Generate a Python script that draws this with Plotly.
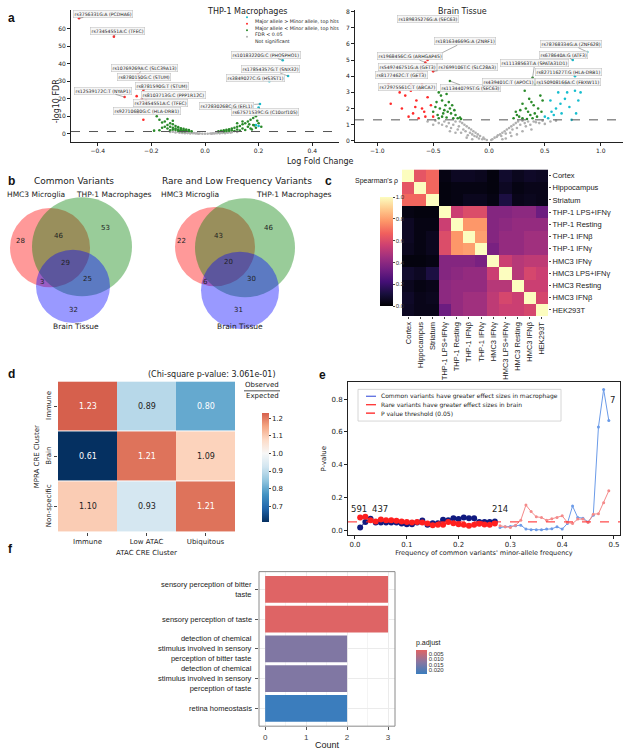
import plotly.graph_objects as go

W, H = 625, 750


def fx(px):
    return px / W


def fy(py):
    return 1 - py / H


FONT = "DejaVu Sans"
ARIAL = "Liberation Sans"

# ---------------- panel a: volcano data ----------------
fdr_line = 1.3  # -log10(0.05)

thp_cyan_x = [0.29, 0.31, 0.24, 0.205, 0.20, 0.20, 0.19]
thp_cyan_y = [42, 33, 30, 17, 15, 4.5, 5]
thp_red_x = [-0.47, -0.34, -0.25, -0.245, -0.23, -0.30, -0.255, -0.235, -0.24, -0.25, -0.23, -0.22]
thp_red_y = [66, 55.5, 34, 31, 25, 21, 21.5, 20, 18, 12, 8, 19]
thp_green_x = [-0.18, -0.17, -0.16, -0.15, -0.14, -0.13, -0.13, -0.12, -0.12, -0.11, -0.11, -0.10,
               -0.10, -0.09, -0.09, -0.08, -0.08, -0.07, -0.07, -0.06, -0.06, -0.05, -0.14, -0.15,
               -0.16, -0.12, -0.10, -0.13, -0.11, -0.095, -0.085, -0.075, -0.12, -0.14, -0.17, -0.19,
               0.05, 0.06, 0.07, 0.08, 0.09, 0.10, 0.11, 0.12, 0.13, 0.14, 0.15, 0.16, 0.17, 0.18,
               0.19, 0.10, 0.12, 0.14, 0.16, 0.18, 0.11, 0.13, 0.15, 0.17, 0.19, 0.08, 0.09, 0.07,
               0.12, 0.14, 0.20, 0.185, 0.165, 0.21, 0.175, 0.195]
thp_green_y = [10, 8, 6.5, 7, 5, 6, 4, 3.5, 5.5, 3, 4.5, 2.5,
               3.8, 2.2, 3.2, 2, 2.8, 1.8, 2.4, 1.6, 2.1, 1.5, 3, 4,
               3.5, 2.4, 1.8, 2, 2.2, 1.6, 1.5, 1.5, 7.5, 8.5, 2, 1.8,
               1.5, 1.7, 2, 2.3, 2.6, 3, 3.5, 4, 4.5, 5.5, 6, 7, 8, 9,
               10, 2, 2.5, 3, 4, 5, 1.6, 1.8, 2.2, 3, 3.5, 1.6, 1.8, 1.5,
               6, 7, 6, 4.8, 5.4, 4, 2.5, 7.5]
thp_grey_x = [-0.12, -0.1, -0.09, -0.08, -0.07, -0.06, -0.05, -0.04, -0.03, -0.02, -0.01, 0.0, 0.01,
              0.02, 0.03, 0.04, 0.05, 0.06, 0.07, 0.08, 0.09, -0.045, -0.035, 0.035, 0.045, -0.065,
              0.065, -0.085, 0.085, -0.11, 0.1, -0.13, 0.12, -0.025, 0.025, -0.055, 0.055, -0.075,
              0.075, -0.095, 0.095]
thp_grey_y = [1.2, 1.1, 1.0, 0.9, 0.8, 0.7, 0.6, 0.45, 0.3, 0.15, 0.05, 0.0, 0.05,
              0.15, 0.3, 0.45, 0.6, 0.75, 0.9, 1.05, 1.2, 0.3, 0.2, 0.2, 0.35, 0.4,
              0.45, 0.5, 0.6, 0.8, 0.9, 1.0, 1.1, 0.05, 0.08, 0.2, 0.25, 0.3,
              0.35, 0.6, 0.7]

thp_labels = ["rs3756331G:A (PCDHA6)", "rs73454551A:C (TFEC)", "rs10769269A:C (SLC39A13)",
              "rs8780150G:C (STUM)", "rs8781590G:T (STUM)", "rs12539172C:T (NYAP1)",
              "rs8103713G:C (PPP1R12C)", "rs73454551A:C (TFEC)", "rs92710680G:C (HLA-DRB1)",
              "rs10183220G:C (PHOSPHO1)", "rs17854357G:T (SNX32)", "rs3849027C:G (HS3ST1)",
              "rs72830268C:G (EFL1)", "rs67571539C:G (C10orf105)"]
thp_lab_x = [-0.47, -0.34, -0.25, -0.245, -0.23, -0.30, -0.235, -0.24, -0.25, 0.29, 0.31, 0.24, 0.205, 0.20]
thp_lab_y = [66, 55.5, 34, 31, 25, 21, 20, 18, 12, 42, 33, 30, 17, 15]
thp_text_x = [-0.38, -0.325, -0.224, -0.228, -0.161, -0.381, -0.116, -0.165, -0.217, 0.228, 0.243, 0.19, 0.082, 0.224]
thp_text_y = [68.6, 58.9, 37.7, 32.6, 27.3, 24.7, 22.2, 17.4, 13, 45, 36.8, 31.7, 15.8, 12.3]

brain_cyan_x = [0.88, 0.75, 0.77, 0.68, 0.82, 0.77, 0.70, 0.62, 0.55, 0.60, 0.65, 0.72, 0.78, 0.68,
                0.58, 0.53, 0.74, 0.56, 0.64, 0.80, 0.50]
brain_cyan_y = [5.5, 5.0, 4.0, 3.5, 3.0, 3.1, 3.0, 3.0, 2.5, 2.0, 1.7, 2.1, 1.7, 2.6,
                1.6, 1.4, 1.3, 1.8, 2.3, 2.5, 1.5]
brain_red_x = [-0.6, -0.55, -0.57, -0.6, -0.5, -0.65, -0.7, -0.9, -0.88, -0.8, -0.75, -0.7, -0.65,
               -0.62, -0.6, -0.58, -0.55, -0.52, -0.5, -0.68, -0.72, -0.78, -0.63, -0.57, -0.66, -0.6]
brain_red_y = [7.5, 5.0, 4.85, 4.2, 4.3, 4.0, 3.5, 3.5, 2.3, 3.0, 2.8, 3.1, 2.5,
               3.2, 2.0, 1.8, 2.7, 2.2, 1.5, 1.7, 1.5, 2.0, 1.4, 1.5, 2.1, 3.5]
brain_green_x = [-0.35, -0.4, -0.45, -0.38, -0.42, -0.36, -0.33, -0.48, -0.44, -0.4, -0.37, -0.34,
                 -0.3, -0.46, -0.42, -0.38, -0.28, -0.32, -0.5, -0.47, -0.43, -0.39, -0.35, -0.31,
                 -0.26, -0.25, -0.41, -0.45,
                 0.39, 0.41, 0.45, 0.32, 0.36, 0.38, 0.4, 0.44, 0.3, 0.33, 0.35, 0.28, 0.25, 0.27,
                 0.3, 0.37, 0.41, 0.47, 0.43, 0.39, 0.46, 0.48, 0.34, 0.22, 0.24]
brain_green_y = [3.7, 3.2, 3.0, 2.9, 2.5, 2.4, 2.2, 2.1, 2.0, 1.9, 1.8, 1.7,
                 1.6, 1.6, 1.5, 1.45, 1.4, 1.4, 1.8, 2.4, 2.8, 2.2, 2.0, 1.9,
                 1.45, 1.35, 1.7, 1.4,
                 3.9, 3.5, 3.5, 3.1, 2.6, 2.4, 2.2, 2.0, 2.3, 2.0, 1.8, 1.9, 1.6, 1.5,
                 1.4, 1.6, 1.7, 1.8, 1.5, 1.4, 2.8, 2.5, 1.35, 1.4, 1.8]
brain_grey_x = [-0.02, -0.04, -0.05, -0.06, -0.08, -0.09, -0.1, -0.11, -0.12, -0.13,
                -0.14, -0.15, -0.16, -0.17, -0.18, -0.19, -0.2, -0.21, -0.22, -0.23,
                -0.24, -0.25, -0.26, -0.27, -0.28, -0.3, -0.32, -0.34, -0.36, -0.38,
                -0.4, -0.42, -0.45, -0.48, -0.5, -0.55, -0.2, -0.15, -0.3, -0.35,
                0.02, 0.03, 0.05, 0.07, 0.08, 0.1, 0.11, 0.12, 0.14, 0.15,
                0.16, 0.18, 0.19, 0.2, 0.21, 0.22, 0.24, 0.25, 0.26, 0.28,
                0.3, 0.32, 0.33, 0.35, 0.37, 0.4, 0.42, 0.45, 0.48, 0.5,
                0.55, 0.6, 0.2, 0.25, 0.3, 0.38, 0.15, 0.12]
brain_grey_y = [0.05, 0.12, 0.2, 0.1, 0.3, 0.15, 0.4, 0.25, 0.5, 0.3,
                0.6, 0.4, 0.7, 0.5, 0.8, 0.35, 0.9, 0.6, 1.0, 0.7,
                1.1, 0.5, 1.2, 0.9, 0.7, 1.2, 1.0, 0.8, 1.1, 0.9,
                1.2, 1.0, 1.1, 1.25, 1.0, 1.2, 0.2, 0.1, 0.5, 0.6,
                0.05, 0.1, 0.2, 0.25, 0.35, 0.4, 0.3, 0.5, 0.6, 0.45,
                0.7, 0.8, 0.5, 0.9, 0.7, 1.0, 1.1, 0.8, 1.2, 1.0,
                1.25, 1.1, 0.9, 1.2, 1.0, 1.2, 1.15, 1.1, 1.25, 1.05,
                1.2, 1.25, 0.3, 0.4, 0.6, 0.7, 0.15, 0.1]

brain_labels = ["rs189835276G:A (SEC63)", "rs181634669G:A (ZNRF1)", "rs1968456C:G (ARHGAP45)",
                "rs549746751G:A (GET3)", "rs7699106T:C (SLC28A3)", "rs8177462C:T (GET3)",
                "rs72975561C:T (ABCA7)", "rs113440795T:G (SEC63)", "rs11138563T:A (SPATA31D1)",
                "rs439401C:T (APOC1)", "rs78768334G:A (ZNF628)", "rs678640A:G (ATF3)",
                "rs82711627T:G (HLA-DRB1)", "rs150908166A:C (FBXW11)"]
brain_lab_x = [-0.6, -0.55, -0.57, -0.6, -0.5, -0.65, -0.7, -0.35, 0.39, 0.41, 0.88, 0.75, 0.77, 0.68]
brain_lab_y = [7.5, 5.0, 4.85, 4.2, 4.3, 4.0, 3.5, 3.7, 3.9, 3.5, 5.5, 5.0, 4.0, 3.5]
brain_text_x = [-0.545, -0.217, -0.705, -0.73, -0.19, -0.785, -0.726, -0.17, 0.41, 0.176, 0.73, 0.667, 0.713, 0.71]
brain_text_y = [7.55, 6.15, 5.23, 4.55, 4.55, 4.06, 3.32, 3.24, 4.8, 3.65, 5.99, 5.33, 4.25, 3.65]

# ---------------- panel b: Venn counts ----------------
common_counts = [28, 46, 53, 29, 3, 25, 32]
rare_counts = [22, 43, 46, 20, 6, 30, 31]
set_names = ["HMC3 Microglia", "THP-1 Macrophages", "Brain Tissue"]

# ---------------- panel c: correlation ----------------
samples = ["Cortex", "Hippocampus", "Striatum", "THP-1 LPS+IFNγ", "THP-1 Resting", "THP-1 IFNβ",
           "THP-1 IFNγ", "HMC3 IFNγ", "HMC3 LPS+IFNγ", "HMC3 Resting", "HMC3 IFNβ", "HEK293T"]
rho = [
    [1.00, 0.63, 0.68, 0.03, 0.06, 0.06, 0.05, 0.02, 0.08, 0.05, 0.07, 0.06],
    [0.63, 1.00, 0.68, 0.02, 0.03, 0.03, 0.03, 0.02, 0.06, 0.03, 0.04, 0.04],
    [0.68, 0.68, 1.00, 0.02, 0.03, 0.05, 0.05, 0.03, 0.12, 0.04, 0.05, 0.04],
    [0.03, 0.02, 0.02, 1.00, 0.55, 0.60, 0.60, 0.38, 0.38, 0.40, 0.40, 0.32],
    [0.06, 0.03, 0.03, 0.55, 1.00, 0.78, 0.78, 0.38, 0.40, 0.42, 0.42, 0.42],
    [0.06, 0.03, 0.05, 0.60, 0.78, 1.00, 0.80, 0.38, 0.42, 0.42, 0.45, 0.45],
    [0.05, 0.03, 0.05, 0.60, 0.78, 0.80, 1.00, 0.35, 0.42, 0.42, 0.45, 0.45],
    [0.02, 0.02, 0.03, 0.38, 0.38, 0.38, 0.35, 1.00, 0.55, 0.50, 0.52, 0.52],
    [0.08, 0.06, 0.12, 0.38, 0.40, 0.42, 0.42, 0.55, 1.00, 0.50, 0.58, 0.55],
    [0.05, 0.03, 0.04, 0.40, 0.42, 0.42, 0.42, 0.50, 0.50, 1.00, 0.55, 0.55],
    [0.07, 0.04, 0.05, 0.40, 0.42, 0.45, 0.45, 0.52, 0.58, 0.55, 1.00, 0.58],
    [0.06, 0.04, 0.04, 0.32, 0.42, 0.45, 0.45, 0.52, 0.55, 0.55, 0.58, 1.00],
]

# ---------------- panel d: observed / expected ----------------
atac_clusters = ["Immune", "Low ATAC", "Ubiquitous"]
mpra_clusters = ["Immune", "Brain", "Non-specific"]
obs_exp = [[1.23, 0.89, 0.80],
           [0.61, 1.21, 1.09],
           [1.10, 0.93, 1.21]]

# ---------------- panel e: p-values by MAF ----------------
maf = [0.01, 0.02, 0.03, 0.04, 0.05, 0.06, 0.07, 0.08, 0.09, 0.10, 0.11, 0.12, 0.13, 0.14, 0.15,
       0.16, 0.17, 0.18, 0.19, 0.20, 0.21, 0.22, 0.23, 0.24, 0.25, 0.26, 0.27, 0.28, 0.29, 0.30,
       0.31, 0.32, 0.33, 0.34, 0.35, 0.36, 0.37, 0.38, 0.39, 0.40, 0.41, 0.42, 0.43, 0.44, 0.45,
       0.46, 0.47, 0.48, 0.49]
p_common = [0.016, 0.05, 0.07, 0.047, 0.047, 0.047, 0.047, 0.047, 0.04, 0.036, 0.036, 0.047, 0.058,
            0.032, 0.042, 0.042, 0.063, 0.06, 0.073, 0.067, 0.077, 0.073, 0.073, 0.05, 0.05, 0.05,
            0.052, 0.016, 0.02, 0.022, 0.026, 0.03, 0.006, 0.002, 0.002, 0.002, 0.006, 0.008, 0.02,
            0.006, 0.04, 0.147, 0.077, 0.073, 0.05, 0.09, 0.63, 0.86, 0.67]
p_rare = [0.077, 0.081, 0.06, 0.053, 0.065, 0.06, 0.06, 0.057, 0.053, 0.05, 0.047, 0.05, 0.047,
          0.04, 0.03, 0.032, 0.032, 0.05, 0.042, 0.036, 0.032, 0.026, 0.032, 0.038, 0.034, 0.032,
          0.04, 0.026, 0.02, 0.016, 0.03, 0.06, 0.153, 0.113, 0.081, 0.077, 0.06, 0.07, 0.077,
          0.087, 0.047, 0.04, 0.067, 0.067, 0.047, 0.097, 0.1, 0.167, 0.24]
n_dense = 27
n_labels = ["591", "437", "214", "7"]
n_label_maf = [0.008, 0.049, 0.28, 0.498]
n_label_p = [0.127, 0.127, 0.127, 0.795]
p_threshold = 0.05
e_legend = ["Common variants have greater effect sizes in macrophage",
            "Rare variants have greater effect sizes in brain",
            "P value threshold (0.05)"]

# ---------------- panel f: GO enrichment ----------------
go_terms = ["sensory perception of bitter<br>taste", "sensory perception of taste",
            "detection of chemical<br>stimulus involved in sensory<br>perception of bitter taste",
            "detection of chemical<br>stimulus involved in sensory<br>perception of taste",
            "retina homeostasis"]
go_count = [3, 3, 2, 2, 2]
go_padj = [0.0008, 0.0009, 0.0135, 0.0135, 0.0235]

CYAN, RED, GREEN, GREY = "#17becf", "#ff2a2a", "#2a8a2a", "#b0b0b0"
a_legend = ["Major allele > Minor allele, top hits", "Major allele < Minor allele, top hits",
            "FDR < 0.05", "Not significant"]

fig = go.Figure()

# ---- panel a traces
volc = [
    ("x", "y", thp_cyan_x, thp_cyan_y, thp_red_x, thp_red_y, thp_green_x, thp_green_y, thp_grey_x, thp_grey_y),
    ("x2", "y2", brain_cyan_x, brain_cyan_y, brain_red_x, brain_red_y, brain_green_x, brain_green_y, brain_grey_x, brain_grey_y),
]
for xa, ya, cx, cy, rx, ry, gx, gy, nx, ny in volc:
    for xs, ys, col in [(nx, ny, GREY), (gx, gy, GREEN), (rx, ry, RED), (cx, cy, CYAN)]:
        fig.add_trace(go.Scatter(x=xs, y=ys, mode="markers", xaxis=xa, yaxis=ya,
                                 marker=dict(size=2.6, color=col), showlegend=False))

# ---- panel c heatmap
fig.add_trace(go.Heatmap(z=rho, x=samples, y=samples, xaxis="x4", yaxis="y4",
                         colorscale="Magma", zmin=0, zmax=1,
                         colorbar=dict(x=fx(370), xanchor="left", y=fy(317), yanchor="bottom",
                                       len=130 / H, lenmode="fraction", thickness=13,
                                       thicknessmode="pixels", outlinewidth=0,
                                       tickvals=[0, 0.2, 0.4, 0.6, 0.8, 1.0], tickformat=".1f",
                                       ticks="outside", ticklen=2,
                                       tickfont=dict(size=6, family=ARIAL, color="#333"))))

# ---- panel d heatmap
rdbu = ["#053061", "#2166ac", "#4393c3", "#92c5de", "#d1e5f0", "#f7f7f7", "#fddbc7", "#f4a582", "#d6604d"]
zmin_d, zmax_d = 0.61, 1.23
step = (1 - zmin_d) / 5
scale_d = []
for k, c in enumerate(rdbu):
    scale_d.append([min(k * step / (zmax_d - zmin_d), 1.0), c])
fig.add_trace(go.Heatmap(z=obs_exp, x=atac_clusters, y=mpra_clusters, xaxis="x5", yaxis="y5",
                         colorscale=scale_d, zmin=zmin_d, zmax=zmax_d, ygap=1,
                         colorbar=dict(x=fx(252), xanchor="left", y=fy(535), yanchor="bottom",
                                       len=130 / H, lenmode="fraction", thickness=7,
                                       thicknessmode="pixels", outlinewidth=0,
                                       tickvals=[0.7, 0.8, 0.9, 1.0, 1.1, 1.2], tickformat=".1f",
                                       ticks="outside", ticklen=2,
                                       tickfont=dict(size=7, family=FONT, color="#222"))))

# ---- panel e lines
E_BLUE_L, E_RED_L, E_BLUE_D, E_RED_D = "#6b9be8", "#f48a8a", "#101a80", "#ff1f1f"
fig.add_trace(go.Scatter(x=maf[n_dense:], y=p_common[n_dense:], mode="lines+markers", xaxis="x6", yaxis="y6",
                         line=dict(color=E_BLUE_L, width=1), marker=dict(size=3, color=E_BLUE_L),
                         showlegend=False))
fig.add_trace(go.Scatter(x=maf[n_dense:], y=p_rare[n_dense:], mode="lines+markers", xaxis="x6", yaxis="y6",
                         line=dict(color=E_RED_L, width=1), marker=dict(size=3, color=E_RED_L),
                         showlegend=False))
fig.add_trace(go.Scatter(x=maf[:n_dense], y=p_common[:n_dense], mode="lines+markers", xaxis="x6", yaxis="y6",
                         line=dict(color=E_BLUE_D, width=1), marker=dict(size=6, color=E_BLUE_D),
                         showlegend=False))
fig.add_trace(go.Scatter(x=maf[:n_dense], y=p_rare[:n_dense], mode="lines+markers", xaxis="x6", yaxis="y6",
                         line=dict(color=E_RED_D, width=1), marker=dict(size=6, color=E_RED_D),
                         showlegend=False))

# ---- panel f bars
fig.add_trace(go.Bar(x=go_count, y=go_terms, orientation="h", xaxis="x7", yaxis="y7",
                     marker=dict(color=[-p for p in go_padj], cmin=-0.0236, cmax=-0.00066,
                                 colorscale=[[0, "#3a7dbd"], [0.5, "#8a76a0"], [1, "#e06464"]],
                                 line=dict(width=0),
                                 colorbar=dict(x=fx(406), xanchor="left", y=fy(688), yanchor="bottom",
                                               len=58 / H, lenmode="fraction", thickness=11,
                                               thicknessmode="pixels", outlinewidth=0,
                                               tickvals=[-0.005, -0.01, -0.015, -0.02],
                                               ticktext=["0.005", "0.010", "0.015", "0.020"],
                                               ticks="", tickfont=dict(size=6, family=ARIAL, color="#333"),
                                               title=dict(text="p.adjust", side="top",
                                                          font=dict(size=7, family=ARIAL, color="#222")))),
                     showlegend=False))

# ---------------- axes ----------------
tick6 = dict(size=6, family=FONT, color="#222")
axline = dict(showline=True, linecolor="#222", linewidth=0.8, ticks="outside", ticklen=3,
              tickcolor="#222", showgrid=False, zeroline=False)

lay = dict(
    width=W, height=H, margin=dict(l=0, r=0, t=0, b=0), showlegend=False,
    paper_bgcolor="white", plot_bgcolor="white", font=dict(family=FONT, color="#222"),
    xaxis=dict(domain=[fx(71), fx(339)], range=[-0.5, 0.5], anchor="y",
               tickvals=[-0.4, -0.2, 0, 0.2, 0.4], tickformat=".1f", tickfont=tick6, **axline),
    yaxis=dict(domain=[fy(141), fy(8)], range=[-4.5, 70.75], anchor="x",
               tickvals=[0, 10, 20, 30, 40, 50, 60], tickfont=tick6, **axline),
    xaxis2=dict(domain=[fx(355), fx(623)], range=[-1.2, 1.2], anchor="y2",
                tickvals=[-1.0, -0.5, 0, 0.5, 1.0], tickformat=".1f", tickfont=tick6, **axline),
    yaxis2=dict(domain=[fy(141), fy(8)], range=[-0.05, 8.1], anchor="x2",
                tickvals=list(range(9)), tickfont=tick6, **axline),
    xaxis3=dict(domain=[0, fx(340)], range=[0, 340], anchor="y3", visible=False),
    yaxis3=dict(domain=[fy(335), fy(170)], range=[335, 170], anchor="x3", visible=False),
    xaxis4=dict(domain=[fx(402), fx(548)], anchor="y4", tickangle=-90, ticks="outside", ticklen=2,
                tickfont=dict(size=7.5, family=ARIAL, color="#222"), showgrid=False),
    yaxis4=dict(domain=[fy(317), fy(169)], anchor="x4", autorange="reversed", side="right",
                ticks="outside", ticklen=2, tickfont=dict(size=7.5, family=ARIAL, color="#222"),
                showgrid=False),
    xaxis5=dict(domain=[fx(58), fx(235)], anchor="y5", ticks="outside", ticklen=3,
                tickfont=dict(size=7, family=FONT, color="#222"),
                title=dict(text="ATAC CRE Cluster", font=dict(size=7), standoff=4)),
    yaxis5=dict(domain=[fy(535), fy(383)], anchor="x5", autorange="reversed", ticks="outside",
                ticklen=3, tickangle=-90, tickfont=dict(size=7, family=FONT, color="#222"),
                title=dict(text="MPRA CRE Cluster", font=dict(size=7), standoff=4)),
    xaxis6=dict(domain=[fx(348), fx(620)], range=[-0.0135, 0.5116], anchor="y6", mirror=True,
                tickvals=[0, 0.1, 0.2, 0.3, 0.4, 0.5], tickformat=".1f",
                tickfont=dict(size=7, family=FONT, color="#222"),
                title=dict(text="Frequency of common variants' minor-allele frequency",
                           font=dict(size=6.5), standoff=2), **axline),
    yaxis6=dict(domain=[fy(538), fy(384)], range=[-0.03, 0.903], anchor="x6", mirror=True,
                tickvals=[0, 0.2, 0.4, 0.6, 0.8], tickformat=".1f",
                tickfont=dict(size=7, family=FONT, color="#222"),
                title=dict(text="P-value", font=dict(size=7), standoff=4), **axline),
    xaxis7=dict(domain=[fx(259), fx(395)], range=[-0.15, 3.17], anchor="y7",
                tickvals=[0, 1, 2, 3], showgrid=True, gridcolor="#ebebeb", gridwidth=0.8,
                minor=dict(showgrid=True, dtick=0.5, gridcolor="#f4f4f4"),
                zeroline=False, ticks="outside", ticklen=3, tickcolor="#555",
                tickfont=dict(size=8, family=ARIAL, color="#444"),
                title=dict(text="Count", font=dict(size=9, family=ARIAL), standoff=2)),
    yaxis7=dict(domain=[fy(731), fy(575)], range=[4.6, -0.6], anchor="x7",
                showgrid=True, gridcolor="#ebebeb", ticks="outside", ticklen=3, tickcolor="#555",
                showticklabels=False),
    bargap=0.1,
)
fig.update_layout(**lay)

shapes = []
annotations = []

# dashed FDR thresholds
for xr, yr in [("x domain", "y"), ("x2 domain", "y2")]:
    shapes.append(dict(type="line", xref=xr, yref=yr, x0=0, x1=1, y0=fdr_line, y1=fdr_line,
                       line=dict(color="#555", width=1, dash="dash")))
# p threshold
shapes.append(dict(type="line", xref="x6 domain", yref="y6", x0=0, x1=1, y0=p_threshold,
                   y1=p_threshold, line=dict(color="#ff2020", width=1, dash="dash")))
# panel f frame
shapes.append(dict(type="rect", xref="x7 domain", yref="y7 domain", x0=0, x1=1, y0=0, y1=1,
                   line=dict(color="#8a8a8a", width=1)))

# volcano labels
for labs, lx, ly, tx, ty, xa, ya in [(thp_labels, thp_lab_x, thp_lab_y, thp_text_x, thp_text_y, "x", "y"),
                                     (brain_labels, brain_lab_x, brain_lab_y, brain_text_x, brain_text_y, "x2", "y2")]:
    for t, px_, py_, tx_, ty_ in zip(labs, lx, ly, tx, ty):
        annotations.append(dict(text=t, x=px_, y=py_, ax=tx_, ay=ty_, xref=xa, yref=ya, axref=xa, ayref=ya,
                                showarrow=True, arrowhead=0, arrowwidth=0.6, arrowcolor="#777",
                                bgcolor="rgba(245,245,245,0.9)", bordercolor="#bbbbbb", borderwidth=0.5,
                                borderpad=1, font=dict(size=4.6, family=FONT, color="#222")))

# panel a legend (drawn compactly)
for i, (t, col) in enumerate(zip(a_legend, [CYAN, RED, GREEN, GREY])):
    yy = 15.5 + 6.5 * i
    shapes.append(dict(type="circle", xref="paper", yref="paper", x0=fx(246), x1=fx(248),
                       y0=fy(yy + 1), y1=fy(yy - 1), fillcolor=col, line=dict(width=0)))
    annotations.append(dict(text=t, x=fx(253), y=fy(yy), xref="paper", yref="paper", xanchor="left",
                            showarrow=False, font=dict(size=4.8, family=FONT, color="#222")))

# panel a titles
annotations += [
    dict(text="THP-1 Macrophages", x=fx(205), y=fy(3.5), xref="paper", yref="paper", showarrow=False,
         font=dict(size=8)),
    dict(text="Brain Tissue", x=fx(489), y=fy(3.5), xref="paper", yref="paper", showarrow=False,
         font=dict(size=8)),
    dict(text="Log Fold Change", x=fx(320), y=fy(154), xref="paper", yref="paper", showarrow=False,
         font=dict(size=8)),
    dict(text="-log10 FDR", x=fx(50), y=fy(75), xref="paper", yref="paper", showarrow=False,
         textangle=-90, font=dict(size=8)),
]

# venn diagrams (circle layout in panel units)
venn_circles = [(50, 248, 40, "rgba(255,0,0,0.4)"), (82, 247, 50, "rgba(0,128,0,0.4)"),
                (73, 287, 37, "rgba(0,0,255,0.4)")]
venn_circles_r = [(215, 247, 40, "rgba(255,0,0,0.4)"), (245, 248, 50, "rgba(0,128,0,0.4)"),
                  (240, 291, 39, "rgba(0,0,255,0.4)")]
region_pos_l = [(20, 241), (58, 236), (105, 228), (65, 263), (42, 283), (87, 280), (73, 311)]
region_pos_r = [(181, 241), (218, 236), (268, 228), (228, 262), (205, 283), (251, 280), (238, 311)]
for circles, counts, pos, title, tpos, setpos in [
        (venn_circles, common_counts, region_pos_l, "Common Variants", 74,
         [(36, 194), (114, 194), (76, 328)]),
        (venn_circles_r, rare_counts, region_pos_r, "Rare and Low Frequency Variants", 237,
         [(190, 194), (294, 194), (240, 328)])]:
    for cx, cy, r, col in circles:
        shapes.append(dict(type="circle", xref="x3", yref="y3", x0=cx - r, x1=cx + r, y0=cy - r, y1=cy + r,
                           fillcolor=col, line=dict(width=0), layer="below"))
    for c, (px_, py_) in zip(counts, pos):
        annotations.append(dict(text=str(c), x=px_, y=py_, xref="x3", yref="y3", showarrow=False,
                                font=dict(size=7, color="#222")))
    annotations.append(dict(text=title, x=tpos, y=181, xref="x3", yref="y3", showarrow=False,
                            font=dict(size=9)))
    for nm, (px_, py_) in zip(set_names, setpos):
        annotations.append(dict(text=nm, x=px_, y=py_, xref="x3", yref="y3", showarrow=False,
                                font=dict(size=7.5)))

# panel c title
annotations.append(dict(text="Spearman's ρ", x=fx(376), y=fy(175), xref="paper", yref="paper",
                        showarrow=False, font=dict(size=7, family=ARIAL)))

# panel d cell values
for i, row in enumerate(obs_exp):
    for j, v in enumerate(row):
        annotations.append(dict(text=f"{v:.2f}", x=atac_clusters[j], y=mpra_clusters[i], xref="x5", yref="y5",
                                showarrow=False,
                                font=dict(size=8, color="white" if abs(v - 1) > 0.15 else "#222")))

# panel d title + colorbar title
annotations += [
    dict(text="(Chi-square p-value: 3.061e-01)", x=fx(146), y=fy(376), xref="paper", yref="paper",
         showarrow=False, font=dict(size=8)),
    dict(text="Observed", x=fx(262), y=fy(387), xref="paper", yref="paper", showarrow=False,
         font=dict(size=7)),
    dict(text="Expected", x=fx(262), y=fy(398), xref="paper", yref="paper", showarrow=False,
         font=dict(size=7)),
]
shapes.append(dict(type="line", xref="paper", yref="paper", x0=fx(244), x1=fx(280), y0=fy(392.5),
                   y1=fy(392.5), line=dict(color="#222", width=0.8)))

# panel e legend (compact box)
shapes.append(dict(type="rect", xref="paper", yref="paper", x0=fx(358), x1=fx(561), y0=fy(423), y1=fy(391),
                   fillcolor="white", line=dict(color="#cccccc", width=0.8)))
for i, (t, col, dash) in enumerate(zip(e_legend, ["#5a6ee0", "#ff3030", "#ff2020"],
                                       ["solid", "solid", "dash"])):
    yy = 398 + 8.5 * i
    shapes.append(dict(type="line", xref="paper", yref="paper", x0=fx(366), x1=fx(376), y0=fy(yy), y1=fy(yy),
                       line=dict(color=col, width=1.3, dash=dash)))
    annotations.append(dict(text=t, x=fx(379), y=fy(yy), xref="paper", yref="paper", xanchor="left",
                            showarrow=False, font=dict(size=6, family=FONT, color="#222")))

# panel e sample sizes
for t, mx, mp in zip(n_labels, n_label_maf, n_label_p):
    annotations.append(dict(text=t, x=mx, y=mp, xref="x6", yref="y6", showarrow=False,
                            font=dict(size=8.5)))

# panel f category labels (right aligned, like ggplot)
for term in go_terms:
    annotations.append(dict(text=term, x=-0.035, y=term, xref="x7 domain", yref="y7", xanchor="right",
                            align="right", showarrow=False,
                            font=dict(size=7.5, family=ARIAL, color="#222")))

# panel letters
for letter, px_, py_ in [("a", 6, 7), ("b", 6, 172), ("c", 328, 172), ("d", 6, 376), ("e", 322, 377),
                         ("f", 6, 561)]:
    annotations.append(dict(text="<b>" + letter + "</b>", x=fx(px_), y=fy(py_), xref="paper", yref="paper",
                            showarrow=False, font=dict(size=12, family=ARIAL, color="#111")))

fig.update_layout(shapes=shapes, annotations=annotations)

fig.write_html("out.html", config={"displayModeBar": False},
               post_script="document.body.style.margin='0';")
